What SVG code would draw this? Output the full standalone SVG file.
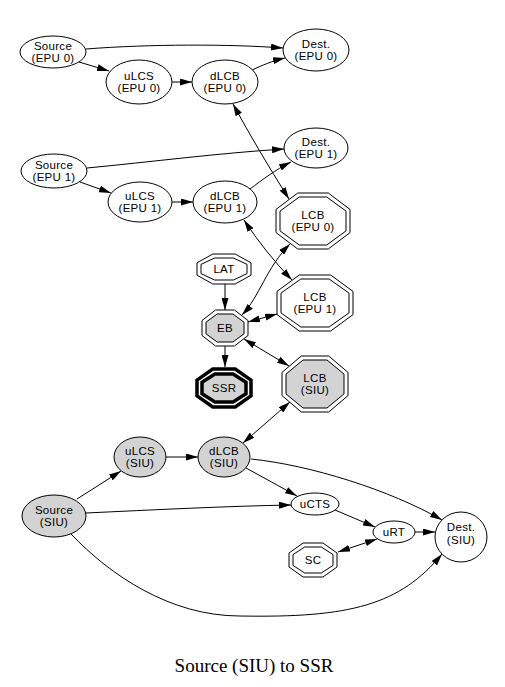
<svg xmlns="http://www.w3.org/2000/svg" width="505" height="687" viewBox="0 0 505 687">
<style>
.n ellipse, .n polygon { fill: #ffffff; stroke: #000000; stroke-width: 1; }
.n .g { fill: #d3d3d3; }
.n .b { stroke-width: 3.5; }
.n text { font-family: "Liberation Sans", Arial, sans-serif; font-size: 11.5px; letter-spacing: 0.3px; fill: #000000; text-anchor: middle; }
.e path { fill: none; stroke: #000000; stroke-width: 1; marker-end: url(#ah); }
.e path.bi { marker-start: url(#ah); }
.title { font-family: "Liberation Serif", "Times New Roman", serif; font-size: 19px; text-anchor: middle; fill: #000000; }
</style>
<defs>
<marker id="ah" markerUnits="userSpaceOnUse" markerWidth="12" markerHeight="7" refX="12" refY="3.5" orient="auto-start-reverse">
<path d="M0,0 L12,3.5 L0,7 z" fill="#000000"/>
</marker>
</defs>
<rect width="505" height="687" fill="#ffffff"/>

<g class="e" id="edges">
<path d="M86,49 C150,44 230,44 283,48"/>
<path d="M79,62 L109,71"/>
<path d="M172,82 L192,82"/>
<path d="M252,70 C263,65 272,61 285,58"/>
<path class="bi" d="M233,104 Q258,150 289,199"/>
<path d="M87,168 C150,162 220,153 284,149"/>
<path d="M80,182 L111,193"/>
<path d="M172,202 L193,202"/>
<path d="M250,189 C262,180 275,170 291,162"/>
<path class="bi" d="M244,220 Q265,252 292,280"/>
<path class="bi" d="M242,315 C260,296 266,268 290,244"/>
<path d="M225,284 L225,310"/>
<path class="bi" d="M248,322 L277,314"/>
<path d="M225,346 L225,367"/>
<path class="bi" d="M244,339 L289,366"/>
<path class="bi" d="M243,443 L290,402"/>
<path d="M77,499 L121,471"/>
<path d="M166,457 L198,457"/>
<path d="M246,468 L297,496"/>
<path d="M251,459 C310,465 390,490 442,520"/>
<path d="M86,513 C150,510 230,506 291,505"/>
<path d="M335,510 L375,527"/>
<path d="M415,532 L435,532"/>
<path class="bi" d="M338,552 L377,539"/>
<path d="M71,534 C110,575 170,616 240,616 C350,618 400,605 442,554"/>
</g>

<g class="n" id="src0"><ellipse cx="53" cy="52" rx="33" ry="16"/><text x="53" y="50">Source</text><text x="53" y="62">(EPU 0)</text></g>
<g class="n" id="dst0"><ellipse cx="316" cy="50" rx="33" ry="21"/><text x="316" y="48">Dest.</text><text x="316" y="60">(EPU 0)</text></g>
<g class="n" id="ulcs0"><ellipse cx="139" cy="82" rx="33" ry="22"/><text x="139" y="80">uLCS</text><text x="139" y="92">(EPU 0)</text></g>
<g class="n" id="dlcb0"><ellipse cx="225" cy="82" rx="33" ry="22"/><text x="225" y="80">dLCB</text><text x="225" y="92">(EPU 0)</text></g>
<g class="n" id="src1"><ellipse cx="54" cy="171" rx="33" ry="17"/><text x="54" y="169">Source</text><text x="54" y="181">(EPU 1)</text></g>
<g class="n" id="dst1"><ellipse cx="316" cy="148" rx="32" ry="20"/><text x="316" y="146">Dest.</text><text x="316" y="158">(EPU 1)</text></g>
<g class="n" id="ulcs1"><ellipse cx="140" cy="202" rx="32" ry="20"/><text x="140" y="200">uLCS</text><text x="140" y="212">(EPU 1)</text></g>
<g class="n" id="dlcb1"><ellipse cx="225" cy="202" rx="32" ry="21"/><text x="225" y="200">dLCB</text><text x="225" y="212">(EPU 1)</text></g>

<g class="n" id="lcb0">
<polygon points="297.7,193 328.3,193 350,209.4 350,232.6 328.3,249 297.7,249 276,232.6 276,209.4"/>
<polygon points="299.3,197 326.7,197 346,211.1 346,230.9 326.7,245 299.3,245 280,230.9 280,211.1"/>
<text x="313" y="219">LCB</text><text x="313" y="231">(EPU 0)</text></g>

<g class="n" id="lat">
<polygon points="212.8,254 235.2,254 251,262.8 251,275.2 235.2,284 212.8,284 197,275.2 197,262.8"/>
<polygon points="214.5,258 233.5,258 247,264.4 247,273.6 233.5,280 214.5,280 201,273.6 201,264.4"/>
<text x="224" y="273">LAT</text></g>

<g class="n" id="lcb1">
<polygon points="299.3,275 330.7,275 353,291.4 353,314.6 330.7,331 299.3,331 277,314.6 277,291.4"/>
<polygon points="300.9,279 329.1,279 349,293.1 349,312.9 329.1,327 300.9,327 281,312.9 281,293.1"/>
<text x="315" y="301">LCB</text><text x="315" y="313">(EPU 1)</text></g>

<g class="n" id="eb">
<polygon points="215.5,310 234.5,310 248,320.5 248,335.5 234.5,346 215.5,346 202,335.5 202,320.5"/>
<polygon class="g" points="217.1,314 232.9,314 244,322.2 244,333.8 232.9,342 217.1,342 206,333.8 206,322.2"/>
<text x="225" y="332">EB</text></g>

<g class="n" id="ssr">
<polygon class="b" points="212.8,369 235.2,369 251,380.1 251,395.9 235.2,407 212.8,407 197,395.9 197,380.1"/>
<polygon class="g b" points="214.9,374 233.1,374 246,382.2 246,393.8 233.1,402 214.9,402 202,393.8 202,382.2"/>
<text x="224" y="392">SSR</text></g>

<g class="n" id="lcbsiu">
<polygon points="301.3,356 328.7,356 348,372.4 348,395.6 328.7,412 301.3,412 282,395.6 282,372.4"/>
<polygon class="g" points="303,360 327,360 344,374.1 344,393.9 327,408 303,408 286,393.9 286,374.1"/>
<text x="315" y="382">LCB</text><text x="315" y="394">(SIU)</text></g>

<g class="n" id="ulcssiu"><ellipse class="g" cx="140" cy="457" rx="26" ry="20"/><text x="140" y="455">uLCS</text><text x="140" y="467">(SIU)</text></g>
<g class="n" id="dlcbsiu"><ellipse class="g" cx="224" cy="457" rx="26" ry="20"/><text x="224" y="455">dLCB</text><text x="224" y="467">(SIU)</text></g>
<g class="n" id="srcsiu"><ellipse class="g" cx="54" cy="516" rx="32" ry="21"/><text x="54" y="514">Source</text><text x="54" y="526">(SIU)</text></g>
<g class="n" id="ucts"><ellipse cx="315" cy="504" rx="24" ry="11"/><text x="315" y="508">uCTS</text></g>
<g class="n" id="urt"><ellipse cx="394" cy="532" rx="21" ry="11"/><text x="394" y="536">uRT</text></g>
<g class="n" id="dstsiu"><ellipse cx="461" cy="537" rx="26" ry="25"/><text x="461" y="531">Dest.</text><text x="461" y="544">(SIU)</text></g>

<g class="n" id="sc">
<polygon points="303.1,543 322.9,543 337,553 337,567 322.9,577 303.1,577 289,567 289,553"/>
<polygon points="304.7,547 321.3,547 333,554.6 333,565.4 321.3,573 304.7,573 293,565.4 293,554.6"/>
<text x="313" y="564">SC</text></g>

<text class="title" x="254" y="672">Source (SIU) to SSR</text>
</svg>
